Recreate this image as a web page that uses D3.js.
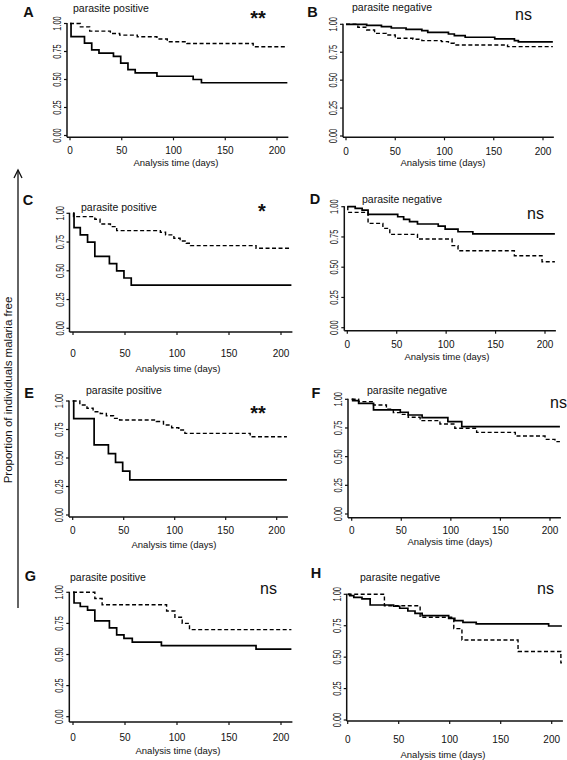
<!DOCTYPE html>
<html><head><meta charset="utf-8">
<script src="https://cdn.jsdelivr.net/npm/d3@7"></script>
<style>
body{margin:0;background:#fff}
svg{display:block}
text{font-family:"Liberation Sans",Arial,Helvetica,sans-serif;fill:#111}
</style>
</head><body>
<svg id="chart" width="567" height="760"></svg>
<script>
// ---------- texts ----------
const panelLetters = ["A","B","C","D","E","F","G","H"];
const panelSubtitles = ["parasite positive","parasite negative","parasite positive","parasite negative",
                        "parasite positive","parasite negative","parasite positive","parasite negative"];
const significance = ["**","ns","*","ns","**","ns","ns","ns"];
const xTicks = [0,50,100,150,200];
const yTicks = [0,0.25,0.5,0.75,1];
const yTickLabels = ["0.00","0.25","0.50","0.75","1.00"];
const xAxisTitle = "Analysis time (days)";
const yAxisTitle = "Proportion of individuals malaria free";
const followUpEnd = 210;

// ---------- Kaplan-Meier curves: event times (days) and survival after each event ----------
// Panel A
const aSolidT  = [1,14,21,28,42,49,56,63,84,119,127];
const aSolidS  = [0.882,0.824,0.765,0.735,0.706,0.647,0.588,0.559,0.529,0.5,0.471];
const aDashT   = [10,19,39,48,65,84,94,113,177];
const aDashS   = [0.97,0.932,0.911,0.896,0.882,0.861,0.837,0.822,0.793];
// Panel B
const bSolidT  = [21,36,46,61,77,83,104,110,121,151,171,175];
const bSolidS  = [0.99,0.98,0.967,0.955,0.943,0.928,0.913,0.899,0.884,0.87,0.854,0.842];
const bDashT   = [12,21,29,41,50,68,77,97,104,110,164];
const bDashS   = [0.973,0.949,0.919,0.904,0.875,0.866,0.854,0.845,0.83,0.815,0.8];
// Panel C
const cSolidT  = [1,7,14,21,35,42,49,56];
const cSolidS  = [0.875,0.8125,0.75,0.625,0.5625,0.5,0.4375,0.375];
const cDashT   = [0.5,21,26,36,42,84,89,97,103,109,113,176];
const cDashS   = [0.971,0.948,0.907,0.884,0.849,0.835,0.812,0.783,0.759,0.739,0.719,0.696];
// Panel D
const dSolidT  = [8,15,21,51,57,63,71,92,99,112,127];
const dSolidS  = [0.986,0.972,0.937,0.917,0.895,0.876,0.857,0.84,0.815,0.793,0.775];
const dDashT   = [0.5,21,36,43,71,106,112,169,197];
const dDashS   = [0.953,0.862,0.821,0.771,0.733,0.678,0.636,0.595,0.545];
// Panel E
const eSolidT  = [1,21,35,42,49,56];
const eSolidS  = [0.846,0.615,0.538,0.462,0.385,0.308];
const eDashT   = [7,14,20,27,33,40,46,82,89,97,104,110,174];
const eDashS   = [0.965,0.936,0.906,0.89,0.871,0.848,0.833,0.82,0.789,0.766,0.745,0.716,0.687];
// Panel F
const fSolidT  = [1,7,22,49,57,71,97,111];
const fSolidS  = [0.988,0.965,0.907,0.887,0.863,0.84,0.805,0.762];
const fDashT   = [7,22,35,42,49,57,69,89,104,126,165,195,205];
const fDashS   = [0.98,0.95,0.913,0.884,0.869,0.843,0.814,0.785,0.747,0.712,0.68,0.651,0.631];
// Panel G
const gSolidT  = [1,7,14,21,35,42,49,57,85,176];
const gSolidS  = [0.914,0.886,0.857,0.771,0.714,0.657,0.629,0.6,0.571,0.543];
const gDashT   = [21,28,90,98,105,112];
const gDashS   = [0.95,0.9,0.85,0.8,0.75,0.7];
// Panel H
const hSolidT  = [2,6,14,22,45,51,59,66,73,99,105,113,126,197];
const hSolidS  = [0.99,0.976,0.963,0.915,0.905,0.889,0.867,0.849,0.83,0.809,0.79,0.777,0.764,0.748];
const hDashT   = [36,71,104,112,167,209];
const hDashS   = [0.909,0.818,0.727,0.636,0.545,0.455];

const curves = [
  [[aSolidT,aSolidS],[aDashT,aDashS]],
  [[bSolidT,bSolidS],[bDashT,bDashS]],
  [[cSolidT,cSolidS],[cDashT,cDashS]],
  [[dSolidT,dSolidS],[dDashT,dDashS]],
  [[eSolidT,eSolidS],[eDashT,eDashS]],
  [[fSolidT,fSolidS],[fDashT,fDashS]],
  [[gSolidT,gSolidS],[gDashT,gDashS]],
  [[hSolidT,hSolidS],[hDashT,hDashS]]
];

// ---------- layout (pixel positions) ----------
const layout = [
 {x0:70,   x200:277,   y0:135.5, y1:23.5,  axX:67,    axY:137.3, tickBase:154, titleX:176, titleBase:166, letX:28.5, letBase:16.5, subX:73,  subBase:11.5, sigX:258, sigBase:25,  sigAnchor:"middle"},
 {x0:346,  x200:543,   y0:136,   y1:24.3,  axX:343,   axY:137.3, tickBase:155, titleX:443, titleBase:166, letX:312.5,letBase:17,   subX:352, subBase:11,   sigX:515, sigBase:20,  sigAnchor:"start"},
 {x0:73,   x200:281,   y0:328.3, y1:213.3, axX:69.5,  axY:332,   tickBase:357, titleX:178, titleBase:372, letX:28,   letBase:205,  subX:81,  subBase:211,  sigX:262, sigBase:217.5,sigAnchor:"middle"},
 {x0:347.3,x200:545,   y0:327.7, y1:206.7, axX:344.3, axY:330.7, tickBase:348, titleX:447, titleBase:360, letX:315,  letBase:204,  subX:362, subBase:203,  sigX:527, sigBase:219, sigAnchor:"start"},
 {x0:72.7, x200:276.7, y0:515,   y1:401,   axX:69,    axY:517,   tickBase:534, titleX:174, titleBase:548, letX:29,   letBase:398,  subX:86,  subBase:394,  sigX:258, sigBase:419.5,sigAnchor:"middle"},
 {x0:351.7,x200:550,   y0:514,   y1:399.3, axX:348,   axY:517.7, tickBase:534, titleX:450, titleBase:545, letX:316,  letBase:398,  subX:367, subBase:394,  sigX:550, sigBase:408, sigAnchor:"start"},
 {x0:73,   x200:281,   y0:716.7, y1:592.3, axX:69.3,  axY:722,   tickBase:741, titleX:178, titleBase:754, letX:30.5, letBase:581,  subX:70,  subBase:581,  sigX:260, sigBase:594, sigAnchor:"start"},
 {x0:347.7,x200:551.7, y0:720,   y1:594.3, axX:346.7, axY:721,   tickBase:743, titleX:443, titleBase:758, letX:316,  letBase:578,  subX:360, subBase:581,  sigX:537, sigBase:594, sigAnchor:"start"}
];

const svg = d3.select("#chart");

layout.forEach((L, i) => {
  const g = svg.append("g");
  const x = d3.scaleLinear().domain([0,200]).range([L.x0, L.x200]);
  const y = d3.scaleLinear().domain([0,1]).range([L.y0, L.y1]);

  // axes lines
  g.append("line").attr("x1", L.axX).attr("x2", L.axX).attr("y1", y(1) - 0.5).attr("y2", L.axY)
    .attr("stroke","#111").attr("stroke-width",1.5);
  g.append("line").attr("x1", L.axX).attr("x2", x(followUpEnd) + 1).attr("y1", L.axY).attr("y2", L.axY)
    .attr("stroke","#111").attr("stroke-width",1.5);

  // x ticks
  xTicks.forEach(v => {
    g.append("line").attr("x1", x(v)).attr("x2", x(v)).attr("y1", L.axY).attr("y2", L.axY + 3)
      .attr("stroke","#111").attr("stroke-width",1.2);
    g.append("text").attr("x", x(v)).attr("y", L.tickBase).attr("text-anchor","middle")
      .attr("font-size",10).attr("fill","#222").text(String(v));
  });
  // y ticks
  yTicks.forEach((v, k) => {
    g.append("line").attr("x1", L.axX - 3).attr("x2", L.axX).attr("y1", y(v)).attr("y2", y(v))
      .attr("stroke","#111").attr("stroke-width",1.2);
    g.append("text")
      .attr("transform", `translate(${L.axX - 10},${y(v)}) rotate(-90) scale(0.68,1)`)
      .attr("text-anchor","middle").attr("dominant-baseline","central")
      .attr("font-size",11).attr("fill","#222").text(yTickLabels[k]);
  });

  // axis title
  g.append("text").attr("x", L.titleX).attr("y", L.titleBase).attr("text-anchor","middle")
    .attr("font-size",9.5).text(xAxisTitle);

  // panel letter
  g.append("text").attr("x", L.letX).attr("y", L.letBase).attr("text-anchor","middle")
    .attr("font-size",14.5).attr("font-weight","bold").text(panelLetters[i]);

  // subtitle
  g.append("text").attr("x", L.subX).attr("y", L.subBase).attr("font-size",10.5).text(panelSubtitles[i]);

  // significance
  const isStar = significance[i] !== "ns";
  g.append("text").attr("x", L.sigX).attr("y", L.sigBase).attr("text-anchor", L.sigAnchor)
    .attr("font-size", isStar ? 20 : 16).attr("font-weight", isStar ? "bold" : "normal")
    .text(significance[i]);

  // curves
  const line = d3.line().x(d => x(d[0])).y(d => y(d[1])).curve(d3.curveStepAfter);
  curves[i].forEach(([T, S], ci) => {
    const pts = [[0,1]];
    T.forEach((t, k) => pts.push([t, S[k]]));
    pts.push([followUpEnd, S[S.length - 1]]);
    g.append("path").attr("d", line(pts)).attr("fill","none").attr("stroke","#000")
      .attr("stroke-width", ci === 0 ? 1.7 : 1.4)
      .attr("stroke-dasharray", ci === 0 ? null : "4,2.5");
  });
});

// global arrow and label
const arrowX = 18, arrowTop = 170, arrowBottom = 608;
svg.append("line").attr("x1", arrowX).attr("x2", arrowX).attr("y1", arrowTop).attr("y2", arrowBottom)
  .attr("stroke","#111").attr("stroke-width",1.3);
svg.append("path").attr("d", `M${arrowX-4},${arrowTop+8} L${arrowX},${arrowTop} L${arrowX+4},${arrowTop+8}`)
  .attr("fill","none").attr("stroke","#111").attr("stroke-width",1.3);
svg.append("text").attr("transform", `translate(8,390) rotate(-90)`)
  .attr("text-anchor","middle").attr("dominant-baseline","central")
  .attr("font-size",11.5).attr("fill","#222").text(yAxisTitle);
</script>
</body></html>
